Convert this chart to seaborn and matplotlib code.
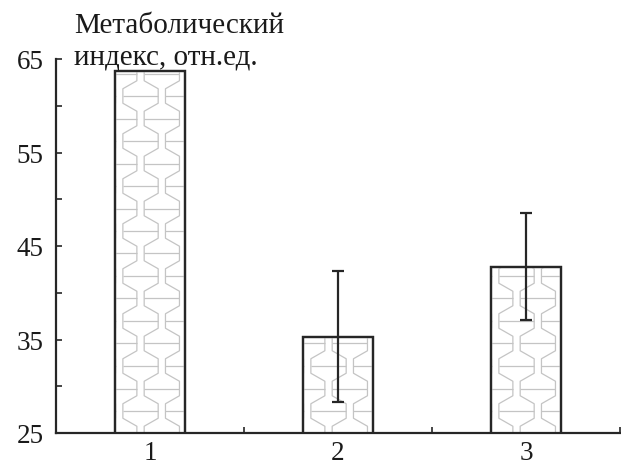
import numpy as np
import matplotlib
matplotlib.use("Agg")
import matplotlib.pyplot as plt
from matplotlib.collections import LineCollection
from matplotlib.patches import Rectangle
import seaborn as sns

# Group labels, mean values and their spread
groups = ["1", "2", "3"]
means = [63.7, 35.3, 42.8]
errors = [None, 7.0, 5.7]
y_ticks = [25, 35, 45, 55, 65]
ylabel_lines = ["Метаболический", "индекс, отн.ед."]

sns.set_theme(style="ticks")
plt.rcParams["font.family"] = ["Liberation Serif", "DejaVu Serif"]

INK = "#262626"
PATTERN = "#c4c4c4"

fig = plt.figure(figsize=(6.21, 4.64), dpi=100)
W, H = 621, 464
ax = fig.add_axes([56 / W, 30 / H, (620 - 56) / W, 374 / H])

sns.barplot(x=groups, y=means, width=0.37, color="white", edgecolor=INK,
            linewidth=1.6, errorbar=None, ax=ax, zorder=1)

ax.set_xlim(-0.5, 2.5)
ax.set_ylim(25, 65)
Y0 = 25

# pixel -> data scale factors
bb = ax.get_window_extent()
kx = 3.0 / bb.width
ky = 40.0 / bb.height


def border_profile(y_top_px, sign):
    """Zig-zag border between two pattern columns (pixel units above the axis)."""
    period, flat, slope = 45.0, 14.5, 8.0
    yc0 = 22.0
    pts = []
    for n in range(-2, int(y_top_px / period) + 2):
        yc = yc0 + n * period
        pts += [(sign, yc - flat / 2), (sign, yc + flat / 2),
                (-sign, yc + flat / 2 + slope),
                (-sign, yc + flat / 2 + slope + flat)]
    return pts


def draw_pattern(bar):
    x0 = bar.get_x()
    w = bar.get_width()
    top = bar.get_y() + bar.get_height()
    top_px = (top - Y0) / ky
    s, d = 21.3, 7.0
    segs = []
    # vertical zig-zag borders
    for k in range(-1, 5):
        b = 4 + s * k + s / 2
        sign = 1 if k % 2 == 1 else -1
        prof = border_profile(top_px, sign)
        segs.append([(x0 + (b + sg * d) * kx, Y0 + yy * ky) for sg, yy in prof])
    # horizontal rungs through the wide parts
    for k in range(-1, 5):
        cx = 4 + s * k
        y = (22.0 if k % 2 == 1 else 44.5) - 90.0
        while y < top_px + 45:
            xl = x0 + (cx - s / 2 - d) * kx
            xr = x0 + (cx + s / 2 + d) * kx
            segs.append([(xl, Y0 + y * ky), (xr, Y0 + y * ky)])
            y += 45.0
    lc = LineCollection(segs, colors=PATTERN, linewidths=0.9, zorder=1.5)
    ax.add_collection(lc)
    # keep the pattern inside the visible part of the bar
    clip = Rectangle((x0, Y0), w, top - Y0, transform=ax.transData)
    lc.set_clip_path(clip)
    # redraw the outline above the pattern
    ax.add_patch(Rectangle((x0, bar.get_y()), w, bar.get_height(),
                           facecolor="none", edgecolor=INK, linewidth=1.6,
                           zorder=2))


for bar in list(ax.patches):
    draw_pattern(bar)

# error bars for groups with measured spread
xs = [i for i, e in enumerate(errors) if e is not None]
ax.errorbar(xs, [means[i] for i in xs], yerr=[errors[i] for i in xs],
            fmt="none", ecolor=INK, elinewidth=1.6, capsize=4, capthick=1.6,
            zorder=3)

sns.despine(ax=ax)
for sp in ("left", "bottom"):
    ax.spines[sp].set_color(INK)
    ax.spines[sp].set_linewidth(1.6)

ax.set_yticks(y_ticks)
ax.set_yticks([30, 40, 50, 60], minor=True)
ax.set_xticks(range(len(groups)))
ax.set_xticklabels(groups)
ax.set_xticks([0.5, 1.5, 2.5], minor=True)
ax.tick_params(axis="y", which="both", direction="in", length=4.5, width=1.2,
               color=INK, labelsize=19.5, labelcolor="#1a1a1a", pad=9)
ax.tick_params(axis="x", which="major", length=0, labelsize=19.5,
               labelcolor="#1a1a1a", pad=5)
ax.tick_params(axis="x", which="minor", direction="in", length=4.5, width=1.2,
               color=INK)
ax.set_xlabel("")
ax.set_ylabel("")

fig.text(74 / W, 1 - 33 / H, ylabel_lines[0], fontsize=21, color="#1a1a1a",
         ha="left", va="baseline")
fig.text(74 / W, 1 - 65 / H, ylabel_lines[1], fontsize=21, color="#1a1a1a",
         ha="left", va="baseline")

fig.savefig("out.png", dpi=100)
